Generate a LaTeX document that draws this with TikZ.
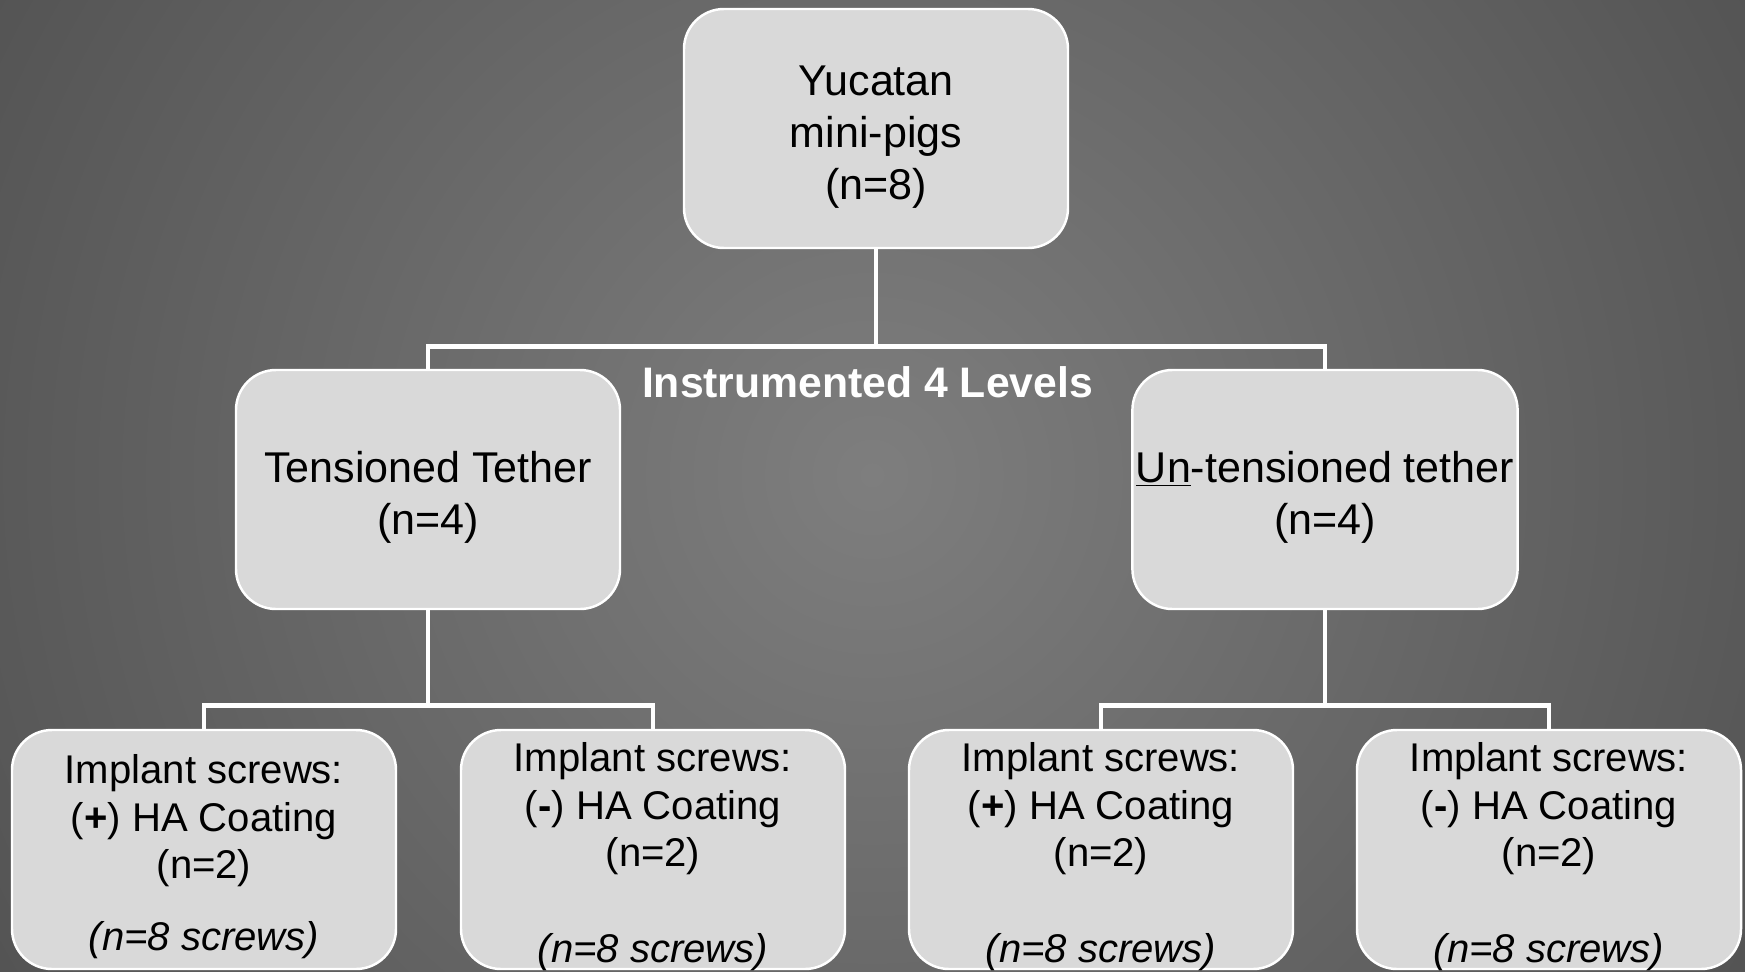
\documentclass[tikz,border=0pt]{standalone}
\usepackage{fontspec}
\setmainfont{Liberation Sans}
\usepackage{tikz}

\definecolor{boxgray}{HTML}{D9D9D9}
\definecolor{glowin}{HTML}{7E7E7E}
\definecolor{glowout}{HTML}{2A2A2A}
\pgfdeclareradialshading{glow}{\pgfpointorigin}{color(0bp)=(glowin); color(50bp)=(glowout); color(72bp)=(glowout)}
\newcommand{\boxtop}{\rule{0pt}{0.95cm}}
\newcommand{\leaftop}{\rule{0pt}{0.71cm}}
\newcommand{\leaftopwide}{\rule{0pt}{0.88cm}}

\begin{document}
\begin{tikzpicture}
\tikzstyle{box}=[draw=white, line width=1.4pt, fill=boxgray, rounded corners=0.8cm, minimum width=7.68cm, minimum height=4.78cm, align=center, inner sep=2pt, text=black, font=\fontsize{24.5}{29.6}\selectfont]
\tikzstyle{leaf}=[box, inner ysep=0pt, font=\fontsize{22.8}{27}\selectfont]
\tikzstyle{link}=[draw=white, line width=2.8pt]
\useasboundingbox (0,0) rectangle (34.9,-19.42);
% background
\begin{scope}
\clip (0,0) rectangle (34.9,-19.42);
\shade[shading=glow] (17.44,-9.5) ++(-20,-20) rectangle ++(40,40);
\end{scope}
% boxes
\node[box] (pigs) at (17.52,-2.57) {\boxtop Yucatan\\mini-pigs\\(n=8)};
\node[box] (tens) at (8.56,-9.79) {\boxtop Tensioned Tether\\(n=4)};
\node[box] (untens) at (26.5,-9.79) {\boxtop\underline{Un}-tensioned tether\\(n=4)};
\node[leaf] (tplus) at (4.08,-16.99) {\leaftopwide Implant screws:\\(\textbf{+}) HA Coating\\(n=2)\\[0.49cm]\textit{(n=8 screws)}};
\node[leaf] (tminus) at (13.06,-16.99) {\leaftop Implant screws:\\(\textbf{-}) HA Coating\\(n=2)\\[0.98cm]\smash{\textit{(n=8 screws)}}};
\node[leaf] (uplus) at (22.02,-16.99) {\leaftop Implant screws:\\(\textbf{+}) HA Coating\\(n=2)\\[0.98cm]\smash{\textit{(n=8 screws)}}};
\node[leaf] (uminus) at (30.98,-16.99) {\leaftop Implant screws:\\(\textbf{-}) HA Coating\\(n=2)\\[0.98cm]\smash{\textit{(n=8 screws)}}};
\node[text=white, font=\bfseries\fontsize{24.3}{29}\selectfont] (levels) at (17.35,-7.64) {Instrumented 4 Levels};
% connectors
\draw[link] (pigs.south) -- ++(0,-1.94) coordinate (split1);
\draw[link] (tens.north) |- (split1) -| (untens.north);
\draw[link] (tens.south) -- ++(0,-1.9) coordinate (split2);
\draw[link] (tplus.north) |- (split2) -| (tminus.north);
\draw[link] (untens.south) -- ++(0,-1.9) coordinate (split3);
\draw[link] (uplus.north) |- (split3) -| (uminus.north);
\end{tikzpicture}
\end{document}
